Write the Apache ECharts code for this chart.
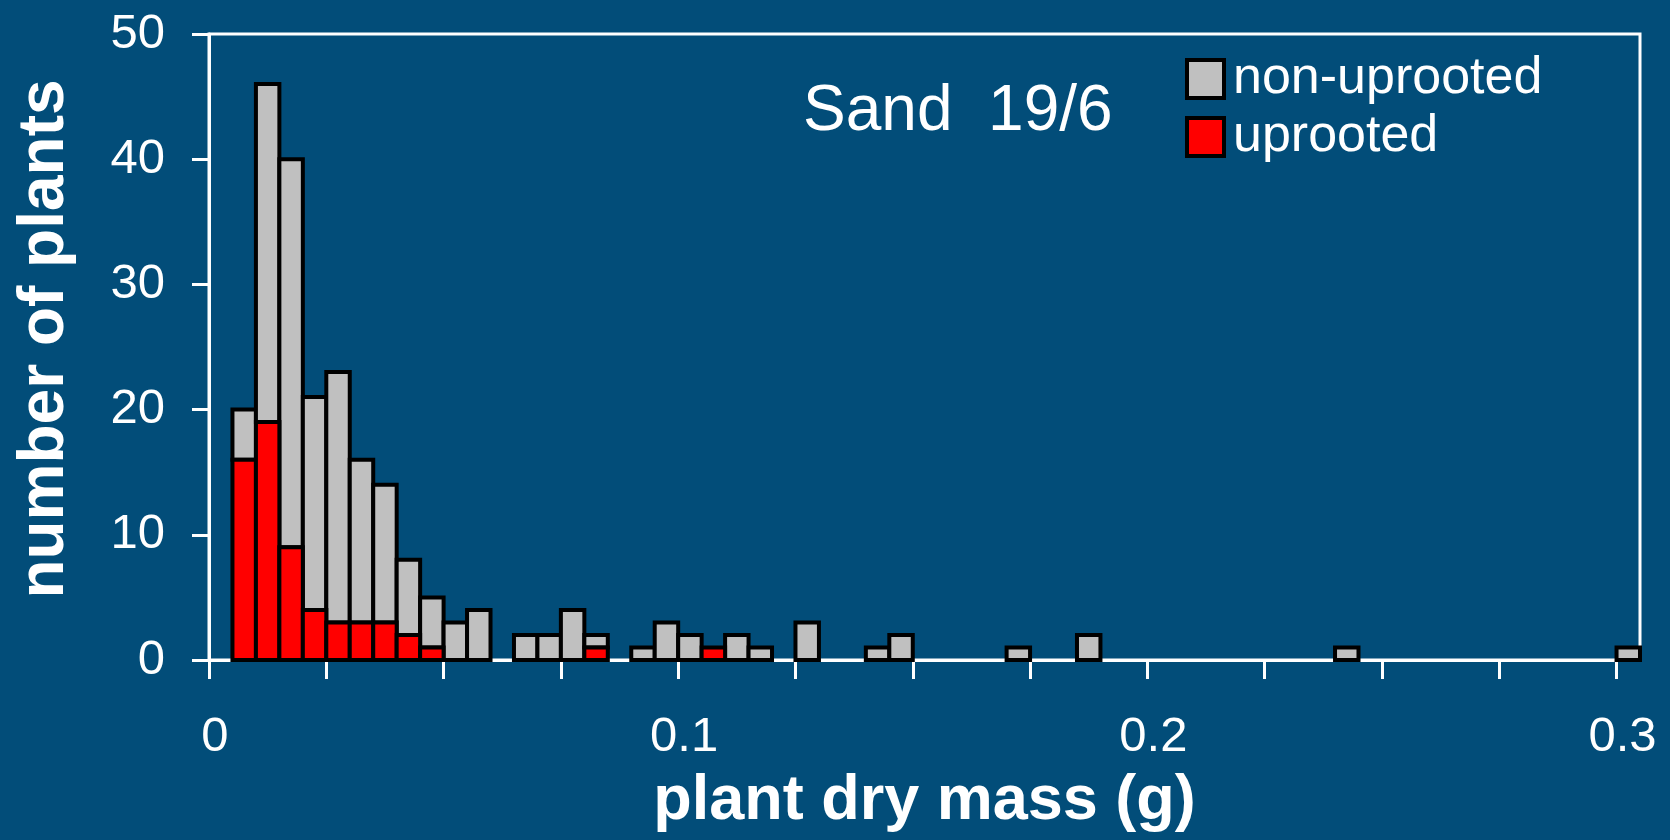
<!DOCTYPE html>
<html><head><meta charset="utf-8">
<script src="https://cdn.jsdelivr.net/npm/echarts@6/dist/echarts.min.js"></script>
<style>html,body{margin:0;padding:0;background:#024D79;}#c{width:1670px;height:840px;}</style>
</head><body><div id="c"></div>
<script>
// ---- data ----
const binWidth = 0.005;
const binStart    = [0.005,0.010,0.015,0.020,0.025,0.030,0.035,0.040,0.045,0.050,0.055,
                     0.065,0.070,0.075,0.080,0.090,0.095,0.100,0.105,0.110,0.115,0.125,
                     0.140,0.145,0.170,0.185,0.240,0.300];
const uprooted    = [16,19, 9, 4, 3, 3, 3, 2, 1, 0, 0,
                      0, 0, 0, 1, 0, 0, 0, 1, 0, 0, 0,
                      0, 0, 0, 0, 0, 0];
const nonUprooted = [ 4,27,31,17,20,13,11, 6, 4, 3, 4,
                      2, 2, 4, 1, 1, 3, 2, 0, 2, 1, 3,
                      1, 2, 1, 2, 1, 1];
const xTicks  = [0,0.025,0.05,0.075,0.1,0.125,0.15,0.175,0.2,0.225,0.25,0.275,0.3];
const xLabels = [0,0.1,0.2,0.3];
const seriesNames = ['non-uprooted','uprooted'];
const chartTitle = 'Sand  19/6';
const xName = 'plant dry mass (g)';
const yName = 'number of plants';

// ---- build series data ----
const redData = [], greyData = [];
binStart.forEach((s, i) => {
  const e = s + binWidth;
  if (uprooted[i] > 0) redData.push([s, e, 0, uprooted[i]]);
  if (nonUprooted[i] > 0) greyData.push([s, e, uprooted[i], uprooted[i] + nonUprooted[i]]);
});

const FONT = '"Liberation Sans", Arial, sans-serif';
const NARROW = '"Liberation Sans Narrow", "Arial Narrow", "Liberation Sans", sans-serif';
function renderBar(params, api) {
  const p0 = api.coord([api.value(0), api.value(2)]);
  const p1 = api.coord([api.value(1), api.value(3)]);
  return {
    type: 'rect',
    shape: { x: p0[0], y: p1[1], width: p1[0] - p0[0], height: p0[1] - p1[1] },
    style: { fill: api.visual('color'), stroke: '#000', lineWidth: 4 }
  };
}

const chart = echarts.init(document.getElementById('c'), null, { renderer: 'canvas' });
chart.setOption({
  backgroundColor: '#024D79',
  animation: false,
  textStyle: { fontFamily: FONT },
  title: {
    text: chartTitle, left: 798, top: 75,
    textStyle: { color: '#fff', fontSize: 64, fontWeight: 'normal', fontFamily: FONT }
  },
  legend: {
    orient: 'vertical', left: 1180, top: 48,
    itemWidth: 37, itemHeight: 38, itemGap: 6, icon: 'rect',
    data: seriesNames, selectedMode: false,
    itemStyle: { borderColor: '#000', borderWidth: 4 },
    textStyle: { color: '#fff', fontSize: 52, fontFamily: FONT, padding: [0, 0, 0, 4] }
  },
  grid: {
    left: 209, right: 30, top: 34, bottom: 180,
    outerBoundsMode: 'none', containLabel: false,
    show: true, borderColor: '#fff', borderWidth: 3, backgroundColor: 'transparent'
  },
  xAxis: {
    type: 'value', min: 0, max: 0.305,
    axisLine: { show: true, lineStyle: { color: '#fff', width: 3 } },
    axisTick: { show: true, customValues: xTicks, length: 19, lineStyle: { color: '#fff', width: 3 } },
    axisLabel: {
      customValues: xLabels, color: '#fff', fontSize: 49, fontFamily: NARROW, margin: 53,
      padding: [0, 0, 0, 12], formatter: v => String(v)
    },
    splitLine: { show: false },
    name: xName, nameLocation: 'middle', nameGap: 110, nameMoveOverlap: false,
    nameTextStyle: { color: '#fff', fontSize: 63, fontWeight: 'bold', fontFamily: FONT }
  },
  yAxis: {
    type: 'value', min: 0, max: 50, interval: 10,
    axisLine: { show: true, lineStyle: { color: '#fff', width: 3 } },
    axisTick: { show: true, length: 17, lineStyle: { color: '#fff', width: 3 } },
    axisLabel: { color: '#fff', fontSize: 49, fontFamily: FONT, margin: 44, padding: [0, 0, 8, 0] },
    splitLine: { show: false },
    name: yName, nameLocation: 'middle', nameGap: 132, nameRotate: 90, nameMoveOverlap: false,
    nameTextStyle: { color: '#fff', fontSize: 64, fontWeight: 'bold', fontFamily: FONT, padding: [0, 0, 0, 16] }
  },
  series: [
    {
      name: seriesNames[0], type: 'custom', renderItem: renderBar,
      itemStyle: { color: '#C0C0C0' }, encode: { x: [0, 1], y: [2, 3] },
      data: greyData, clip: false, z: 3
    },
    {
      name: seriesNames[1], type: 'custom', renderItem: renderBar,
      itemStyle: { color: '#FF0000' }, encode: { x: [0, 1], y: [2, 3] },
      data: redData, clip: false, z: 3
    }
  ]
});
</script></body></html>
